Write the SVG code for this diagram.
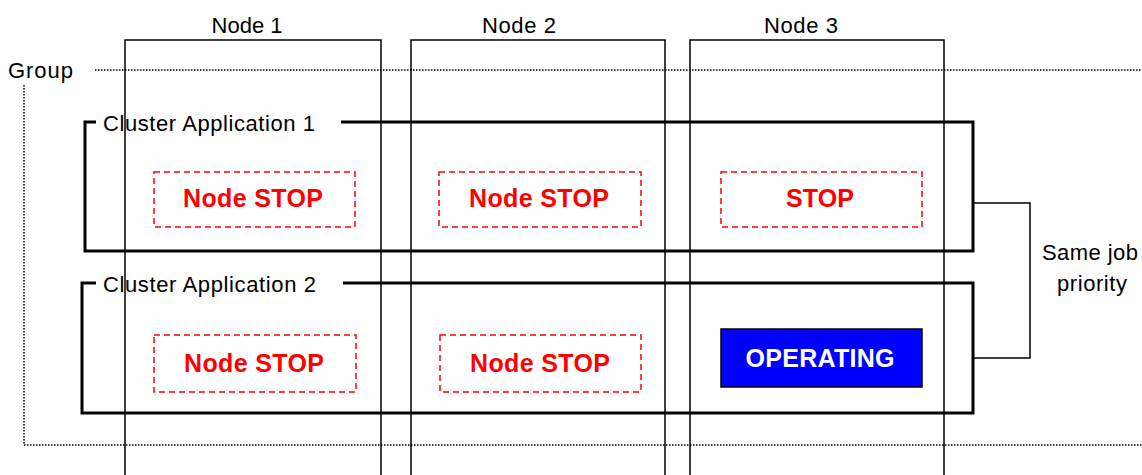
<svg xmlns="http://www.w3.org/2000/svg" width="1142" height="475" viewBox="0 0 1142 475">
<style>
.lbl{font-family:"Liberation Sans",Arial,sans-serif;font-size:22px;fill:#000}
.st{font-family:"Liberation Sans",Arial,sans-serif;font-size:25px;font-weight:bold;fill:#ff0000}
.op{font-family:"Liberation Sans",Arial,sans-serif;font-size:25px;font-weight:bold;fill:#ffffff}
.col{fill:none;stroke:#000;stroke-width:1.5}
.grp{fill:none;stroke:#000;stroke-width:1.5;stroke-dasharray:1.5 1.5}
.clu{fill:none;stroke:#000;stroke-width:3}
.stop{fill:none;stroke:#ff0000;stroke-width:1.5;stroke-dasharray:6 4}
.brk{fill:none;stroke:#000;stroke-width:1.5}
</style>
<rect width="1142" height="475" fill="#fff"/>
<g id="node1">
<path class="col" d="M125,475 V40 H381 V475"/>
<text class="lbl" x="247" y="33" text-anchor="middle" textLength="71">Node 1</text>
</g>
<g id="node2">
<path class="col" d="M411,475 V40 H665 V475"/>
<text class="lbl" x="519" y="33" text-anchor="middle" textLength="74">Node 2</text>
</g>
<g id="node3">
<path class="col" d="M690,475 V40 H944 V475"/>
<text class="lbl" x="801" y="33" text-anchor="middle" textLength="74">Node 3</text>
</g>
<g id="group">
<path class="grp" d="M95,70 H1142"/>
<path class="grp" d="M24,85 V445 H1142"/>
<text class="lbl" x="8" y="78" textLength="65">Group</text>
</g>
<g id="cluster1">
<path class="clu" d="M96,122 H85 V251 H973 V122 H341"/>
<text class="lbl" x="103" y="131" textLength="212">Cluster Application 1</text>
</g>
<g id="cluster2">
<path class="clu" d="M96,283 H82 V413 H973 V283 H343"/>
<text class="lbl" x="103" y="292" textLength="213">Cluster Application 2</text>
</g>
<g id="c1n1">
<rect class="stop" x="154" y="172" width="201" height="55"/>
<text class="st" x="253" y="207" text-anchor="middle" textLength="140">Node STOP</text>
</g>
<g id="c1n2">
<rect class="stop" x="439" y="172" width="202" height="55"/>
<text class="st" x="539" y="207" text-anchor="middle" textLength="140">Node STOP</text>
</g>
<g id="c1n3">
<rect class="stop" x="721" y="172" width="201" height="55"/>
<text class="st" x="820" y="207" text-anchor="middle" textLength="68">STOP</text>
</g>
<g id="c2n1">
<rect class="stop" x="154" y="335" width="202" height="57"/>
<text class="st" x="254" y="372" text-anchor="middle" textLength="140">Node STOP</text>
</g>
<g id="c2n2">
<rect class="stop" x="440" y="335" width="201" height="57"/>
<text class="st" x="540" y="372" text-anchor="middle" textLength="140">Node STOP</text>
</g>
<g id="c2n3">
<rect x="721" y="329" width="201" height="58" fill="#0000ff" stroke="#000" stroke-width="1.5"/>
<text class="op" x="820" y="367" text-anchor="middle" textLength="149">OPERATING</text>
</g>
<g id="connectors">
<path class="brk" d="M973,203 H1030 V358 H973"/>
</g>
<g id="note">
<text class="lbl" x="1042" y="260" textLength="96">Same job</text>
<text class="lbl" x="1057" y="291" textLength="70">priority</text>
</g>
</svg>
